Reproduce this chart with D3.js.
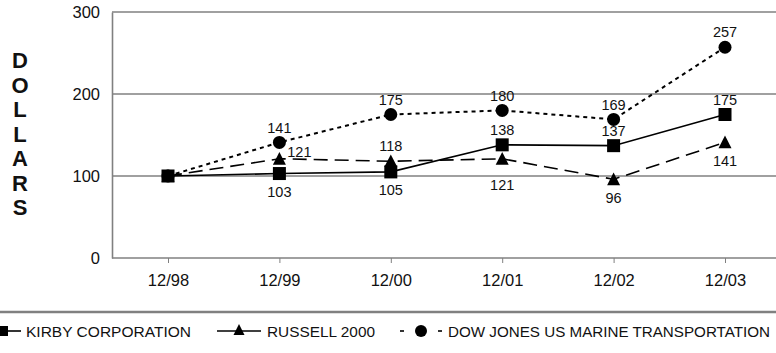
<!DOCTYPE html>
<html>
<head>
<meta charset="utf-8">
<script src="https://cdn.jsdelivr.net/npm/d3@7"></script>
<style>
  html, body { margin: 0; padding: 0; background: #fff; }
  svg { display: block; }
  text { font-family: "Liberation Sans", Arial, Helvetica, sans-serif; fill: #111; }
</style>
</head>
<body>
<svg id="chart" width="776" height="353"></svg>
<script>
// ---- data ----
const categories = ["12/98", "12/99", "12/00", "12/01", "12/02", "12/03"];
const kirby      = [100, 103, 105, 138, 137, 175];
const russell    = [100, 121, 118, 121, 96, 141];
const dowJones   = [100, 141, 175, 180, 169, 257];
const yTicks     = [0, 100, 200, 300];
const seriesNames = ["KIRBY CORPORATION", "RUSSELL 2000", "DOW JONES US MARINE TRANSPORTATION"];
// label placement per point (first point unlabeled)
const kirbyPlace   = [null, "below", "below", "above", "above", "above"];
const russellPlace = [null, "right", "above", "below2", "below", "below"];
const dowPlace     = [null, "above", "above", "above", "above", "above"];

const svg = d3.select("#chart");
const x = d3.scalePoint().domain(categories).range([168, 725]);
const y = d3.scaleLinear().domain([0, 300]).range([258, 12]);
const gridColor = "#808080";

// grid lines
svg.append("g").selectAll("line").data(yTicks.filter(d => d > 0)).join("line")
  .attr("x1", 112).attr("x2", 776)
  .attr("y1", d => y(d)).attr("y2", d => y(d))
  .attr("stroke", gridColor).attr("stroke-width", 1.6);

// y axis
const yAxis = d3.axisLeft(y).tickValues(yTicks).tickSize(0).tickPadding(12);
const gy = svg.append("g").attr("transform", "translate(112,0)").call(yAxis);
gy.select(".domain").attr("stroke", gridColor).attr("stroke-width", 1.6);
gy.selectAll("text").style("font-size", "16.5px").attr("fill", "#111")
  .attr("font-family", "'Liberation Sans', Arial, sans-serif");

// x axis
const xAxis = d3.axisBottom(x).tickSize(5).tickPadding(11);
const gx = svg.append("g").attr("transform", `translate(0,${y(0)})`).call(xAxis);
gx.select(".domain").remove();
svg.append("line").attr("x1", 112).attr("x2", 776).attr("y1", y(0)).attr("y2", y(0))
  .attr("stroke", gridColor).attr("stroke-width", 1.6);
gx.selectAll(".tick line").attr("stroke", gridColor).attr("stroke-width", 1);
gx.selectAll("text").style("font-size", "16.5px").attr("fill", "#111")
  .attr("font-family", "'Liberation Sans', Arial, sans-serif");

// DOLLARS vertical label
const letters = "DOLLARS".split("");
svg.append("g").selectAll("text").data(letters).join("text")
  .attr("x", 20).attr("y", (d, i) => 68 + i * 24.5)
  .attr("text-anchor", "middle")
  .style("font-size", "22px").style("font-weight", "bold")
  .text(d => d);

const line = d3.line().x((d, i) => x(categories[i])).y(d => y(d));

const series = [
  { name: seriesNames[2], values: dowJones, place: dowPlace, dash: "4,4", width: 2, marker: "circle" },
  { name: seriesNames[1], values: russell, place: russellPlace, dash: "14,7", width: 1.6, marker: "triangle" },
  { name: seriesNames[0], values: kirby, place: kirbyPlace, dash: null, width: 1.6, marker: "square" }
];

function drawMarker(g, type, cx, cy, s) {
  if (type === "square") {
    g.append("rect").attr("x", cx - s / 2).attr("y", cy - s / 2).attr("width", s).attr("height", s).attr("fill", "#000");
  } else if (type === "circle") {
    g.append("circle").attr("cx", cx).attr("cy", cy).attr("r", s / 2).attr("fill", "#000");
  } else {
    const h = s * 0.9;
    g.append("path").attr("d", `M${cx},${cy - h / 2 - 1}L${cx + s / 2},${cy + h / 2}L${cx - s / 2},${cy + h / 2}Z`).attr("fill", "#000");
  }
}

series.forEach(s => {
  svg.append("path").datum(s.values).attr("d", line)
    .attr("fill", "none").attr("stroke", "#000").attr("stroke-width", s.width)
    .attr("stroke-dasharray", s.dash);
});
series.forEach(s => {
  const g = svg.append("g");
  s.values.forEach((v, i) => drawMarker(g, s.marker, x(categories[i]), y(v), 13));
});

// value labels
const offsets = { above: [0, -15], below: [0, 18], below2: [0, 26], right: [20, -7] };
series.forEach(s => {
  svg.append("g").selectAll("text").data(s.values.map((v, i) => ({ v, i, p: s.place[i] })).filter(d => d.p))
    .join("text")
    .attr("x", d => x(categories[d.i]) + offsets[d.p][0])
    .attr("y", d => y(d.v) + offsets[d.p][1])
    .attr("dy", "0.36em")
    .attr("text-anchor", "middle")
    .style("font-size", "14.5px")
    .text(d => d.v);
});

// legend
svg.append("line").attr("x1", 0).attr("x2", 776).attr("y1", 312).attr("y2", 312)
  .attr("stroke", gridColor).attr("stroke-width", 2.5);
const lg = svg.append("g");
const ly = 331;
// Kirby
lg.append("line").attr("x1", 4).attr("x2", 21).attr("y1", ly).attr("y2", ly).attr("stroke", "#000").attr("stroke-width", 1.6);
drawMarker(lg, "square", 3, ly, 10);
lg.append("text").attr("x", 26).attr("y", ly + 5.5).attr("textLength", 165).attr("lengthAdjust", "spacingAndGlyphs")
  .style("font-size", "15px").text(seriesNames[0]);
// Russell
lg.append("line").attr("x1", 217).attr("x2", 261).attr("y1", ly).attr("y2", ly).attr("stroke", "#000").attr("stroke-width", 1.6);
drawMarker(lg, "triangle", 239, ly - 1, 11);
lg.append("text").attr("x", 267).attr("y", ly + 5.5).attr("textLength", 108).attr("lengthAdjust", "spacingAndGlyphs")
  .style("font-size", "15px").text(seriesNames[1]);
// Dow Jones
lg.append("line").attr("x1", 400).attr("x2", 404).attr("y1", ly).attr("y2", ly).attr("stroke", "#000").attr("stroke-width", 1.6);
lg.append("line").attr("x1", 438).attr("x2", 442).attr("y1", ly).attr("y2", ly).attr("stroke", "#000").attr("stroke-width", 1.6);
drawMarker(lg, "circle", 421, ly, 12);
lg.append("text").attr("x", 448).attr("y", ly + 5.5).attr("textLength", 322).attr("lengthAdjust", "spacingAndGlyphs")
  .style("font-size", "15px").text(seriesNames[2]);
</script>
</body>
</html>
